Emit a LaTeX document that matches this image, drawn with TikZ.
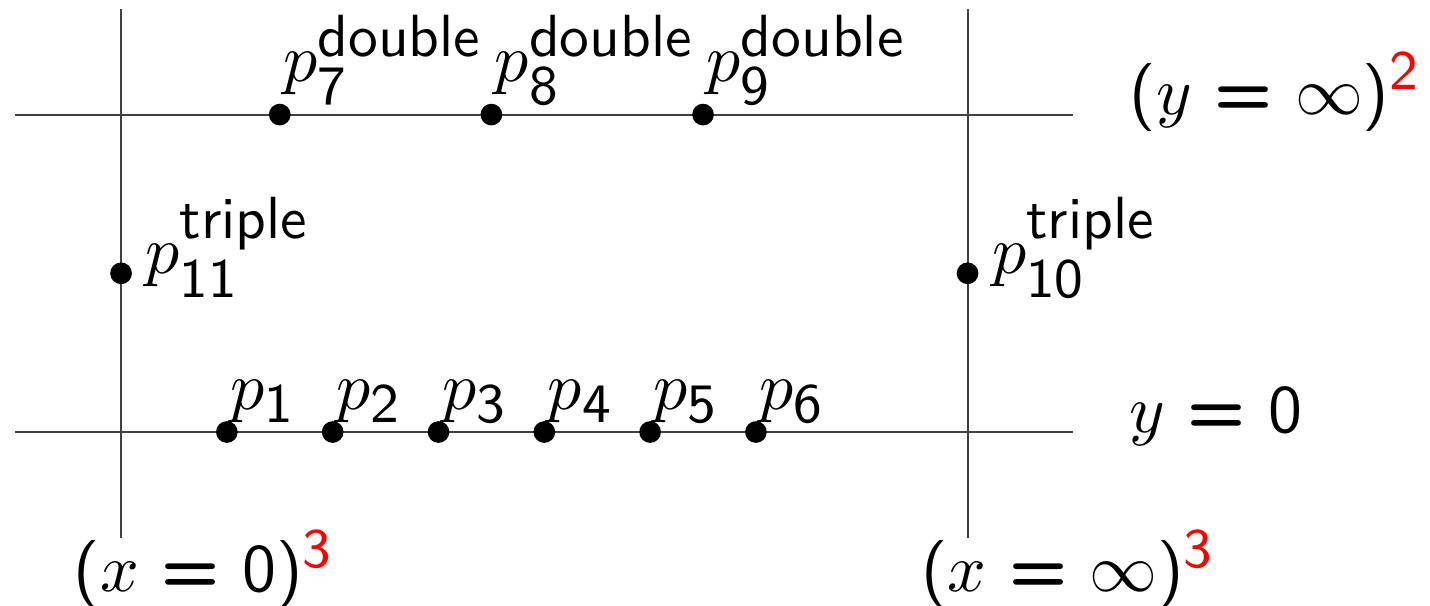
\documentclass[tikz,border=0pt,11pt]{standalone}
\usepackage{amsmath}
% sans digits and operators in math, italic letters
\DeclareSymbolFont{operators}{OT1}{cmss}{m}{n}
\SetSymbolFont{operators}{bold}{OT1}{cmss}{bx}{n}
\DeclareMathSizes{10.95}{10.95}{8.8}{7}
\renewcommand{\familydefault}{\sfdefault}
\newcommand{\eqs}{\mathrel{\boldsymbol{=}}}
\newcommand{\mult}[1]{\text{\fontsize{9.6}{10}\selectfont #1}}
\thickmuskip=6mu plus 5mu
\begin{document}
\begin{tikzpicture}[x=0.6cm,y=0.6cm,
  gridline/.style={black!75, line width=0.3pt},
  dot/.style={circle, fill=black, inner sep=0pt, minimum size=3.5pt},
  lab/.style={inner sep=0pt}]
\useasboundingbox (-1.144,-1.635) rectangle (12.37,4.083);
% the four lines
\draw[gridline] (-1,0) coordinate (ya) -- (9,0) coordinate (yb);
\draw[gridline] (-1,3) coordinate (ia) -- (9,3) coordinate (ib);
\draw[gridline] (0,-1) coordinate (xa) -- (0,4) coordinate (xb);
\draw[gridline] (8,-1) coordinate (ja) -- (8,4) coordinate (jb);
% points on y=0
\foreach \i in {1,...,6}
  \node[dot, label={[lab, xshift=-1pt]above right:$p_{\i}$}] (p\i) at (\i,0) {};
% points on y=infinity
\foreach \i/\x in {7/1.5, 8/3.5, 9/5.5}
  \node[dot, label={[lab, xshift=-1pt]above right:$p_{\i}^{\mult{double}}$}] (p\i) at (\x,3) {};
% triple points
\node[dot, label={[lab, anchor=base west, xshift=1.8pt]right:$p_{10}^{\mult{triple}}$}] (p10) at (8,1.5) {};
\node[dot, label={[lab, anchor=base west, xshift=1.8pt]right:$p_{11}^{\mult{triple}}$}] (p11) at (0,1.5) {};
% names of the lines
\node[lab, anchor=base west] (yinf) at (9.52,3) {$(y\eqs\infty)^{\color{red}2}$};
\node[lab, anchor=base west] (yzero) at (9.52,0) {$y\eqs 0$};
\node[lab, anchor=base west] (xzero) at (-0.46,-1.51) {$(x\eqs 0)^{\color{red}3}$};
\node[lab, anchor=base west] (xinf) at (7.55,-1.51) {$(x\eqs\infty)^{\color{red}3}$};
\end{tikzpicture}
\end{document}
